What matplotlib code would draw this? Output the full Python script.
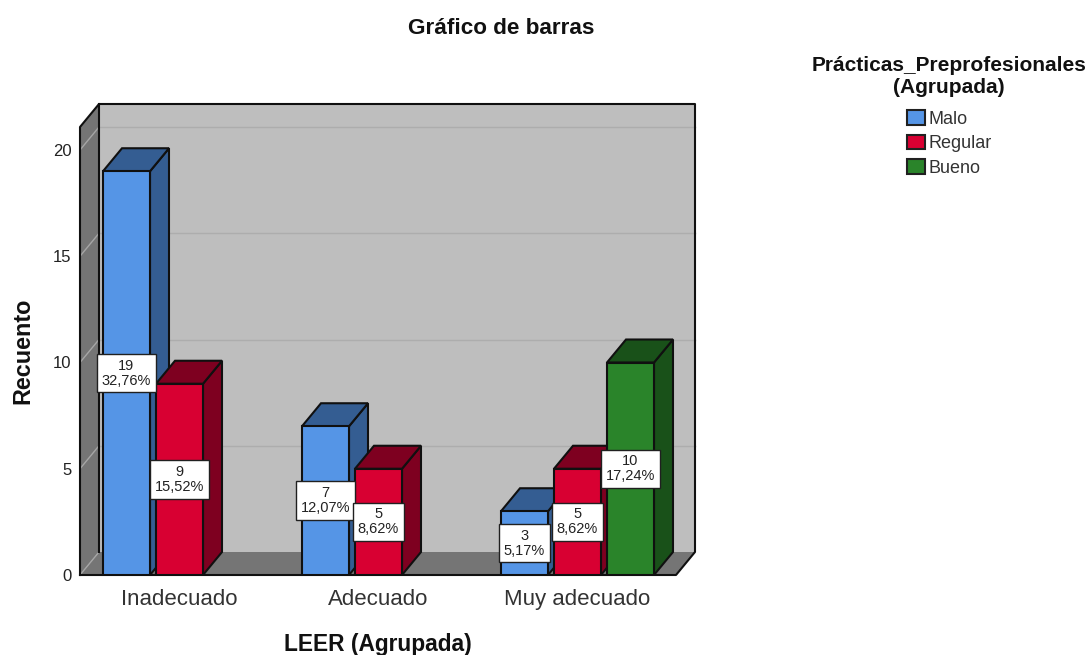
import matplotlib
matplotlib.use('Agg')
import matplotlib.pyplot as plt
from matplotlib.patches import Patch, Polygon

plt.rcParams['font.family'] = ['Liberation Sans', 'DejaVu Sans']

categories = ['Inadecuado', 'Adecuado', 'Muy adecuado']
series_names = ['Malo', 'Regular', 'Bueno']
malo = [19, 7, 3]
regular = [9, 5, 5]
bueno = [0, 0, 10]
malo_pct = ['32,76%', '12,07%', '5,17%']
regular_pct = ['15,52%', '8,62%', '8,62%']
bueno_pct = ['', '', '17,24%']
y_ticks = [0, 5, 10, 15, 20]

colors = ['#5595E6', '#D80032', '#2A842A']
side_colors = ['#345D92', '#7E0020', '#195119']
wall = '#BEBEBE'
floor = '#757575'
edge = '#101010'

# 3d look: offsets in data units
DX = 19 / 199
DY = 23 / 21.25
BAR_W = 47 / 199
SLOT = 53 / 199
YMAX = 448 / 21.25

fig = plt.figure(figsize=(10.88, 6.55), dpi=100)
ax = fig.add_axes([80 / 1088, 80 / 655, 596 / 1088, 448 / 655])
ax.set_xlim(-0.5, 2.495)
ax.set_ylim(0, YMAX)
ax.set_facecolor('none')
for s in ax.spines.values():
    s.set_visible(False)

x0, x1 = -0.5, 2.495


def poly(pts, fc, z, lw=1.5, ec=edge):
    ax.add_patch(Polygon(pts, closed=True, facecolor=fc, edgecolor=ec, linewidth=lw,
                         zorder=z, clip_on=False, joinstyle='miter'))


def outline(xs, ys, z=1.8):
    ax.plot(xs, ys, color=edge, lw=1.5, zorder=z, clip_on=False, solid_capstyle='projecting')


# walls and floor
poly([(x0 + DX, DY), (x1 + DX, DY), (x1 + DX, YMAX + DY), (x0 + DX, YMAX + DY)], wall, 1, 0, 'none')
poly([(x0, 0), (x0 + DX, DY), (x0 + DX, YMAX + DY), (x0, YMAX)], floor, 1, 0, 'none')
poly([(x0, 0), (x1, 0), (x1 + DX, DY), (x0 + DX, DY)], floor, 1, 0, 'none')
for t in y_ticks[1:]:
    ax.plot([x0 + DX, x1 + DX], [t + DY, t + DY], color='#ADADAD', lw=1, zorder=1.5, clip_on=False)
for t in y_ticks:
    ax.plot([x0, x0 + DX], [t, t + DY], color='#A6A6A6', lw=1, zorder=1.5, clip_on=False)
outline([x0, x0, x0 + DX, x1 + DX, x1 + DX, x1, x0], [0, YMAX, YMAX + DY, YMAX + DY, DY, 0, 0])
outline([x0 + DX, x0 + DX], [DY, YMAX + DY])

# bars, left slot first so the next one covers its side
all_vals = [malo, regular, bueno]
all_pct = [malo_pct, regular_pct, bueno_pct]
z = 2
for i in range(3):
    for j in range(3):
        v = all_vals[j][i]
        if v == 0:
            continue
        cx = i + (j - 1) * SLOT
        l, r = cx - BAR_W / 2, cx + BAR_W / 2
        poly([(r, 0), (r + DX, DY), (r + DX, v + DY), (r, v)], side_colors[j], z)
        poly([(l, v), (r, v), (r + DX, v + DY), (l + DX, v + DY)], side_colors[j], z)
        ax.bar(cx, v, BAR_W, color=colors[j], edgecolor=edge, linewidth=1.5, zorder=z + 0.5)
        z += 1

# value labels stay on top of every bar
for i in range(3):
    for j in range(3):
        v = all_vals[j][i]
        if v == 0:
            continue
        ax.text(i + (j - 1) * SLOT, v / 2, f'{v}\n{all_pct[j][i]}', ha='center', va='center',
                fontsize=10.5, color='#222222', linespacing=1.1, zorder=50,
                bbox=dict(boxstyle='square,pad=0.32', facecolor='white', edgecolor='#202020', linewidth=1))

ax.set_xticks(range(3))
ax.set_xticklabels(categories, fontsize=16, color='#333333')
ax.set_yticks(y_ticks)
ax.tick_params(axis='both', length=0)
ax.tick_params(axis='y', labelsize=12, pad=6, labelcolor='#222222')
ax.tick_params(axis='x', pad=10)

fig.text(501 / 1088, 1 - 28 / 655, 'Gráfico de barras', ha='center', va='center', fontsize=16.2, fontweight='bold', color='#111111')
fig.text(378 / 1088, 1 - 645 / 655, 'LEER (Agrupada)', ha='center', va='center', fontsize=16.4, fontweight='bold', color='#111111')
fig.text(23 / 1088, 1 - 351 / 655, 'Recuento', ha='center', va='center', rotation=90, fontsize=16.8, fontweight='bold', color='#111111')

handles = [Patch(facecolor=colors[k], edgecolor='#202020', linewidth=1.5, label=series_names[k]) for k in range(3)]
leg = fig.legend(handles=handles, title='Prácticas_Preprofesionales\n(Agrupada)', loc='upper center',
                 bbox_to_anchor=(949 / 1088, 1 - 42 / 655), frameon=False, fontsize=13,
                 title_fontproperties={'weight': 'bold', 'size': 15}, handlelength=1.0, handleheight=0.85,
                 handletextpad=0.2, labelspacing=0.38, borderpad=0.3, alignment='center')
leg.get_title().set_linespacing(1.15)
leg.get_title().set_multialignment('center')
leg.get_title().set_color('#111111')
leg._legend_box.sep += 5
for txt in leg.get_texts():
    txt.set_color('#333333')

fig.savefig('out.png', dpi=100)
